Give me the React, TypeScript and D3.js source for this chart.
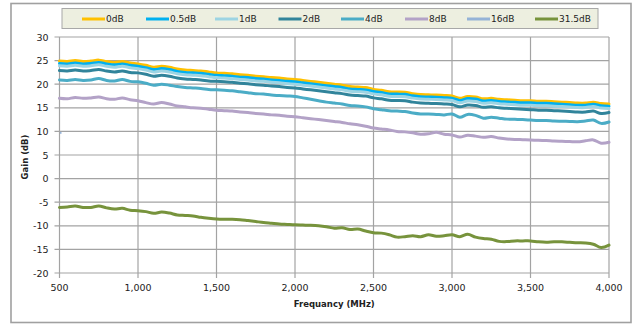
import React from "react";
import * as d3 from "d3";

const FREQS = [500, 550, 600, 650, 700, 750, 800, 850, 900, 950,
  1000, 1050, 1100, 1150, 1200, 1250, 1300, 1350, 1400, 1450,
  1500, 1550, 1600, 1650, 1700, 1750, 1800, 1850, 1900, 1950,
  2000, 2050, 2100, 2150, 2200, 2250, 2300, 2350, 2400, 2450,
  2500, 2550, 2600, 2650, 2700, 2750, 2800, 2850, 2900, 2950,
  3000, 3050, 3100, 3150, 3200, 3250, 3300, 3350, 3400, 3450,
  3500, 3550, 3600, 3650, 3700, 3750, 3800, 3850, 3900, 3950, 4000];

const GAIN_0DB = [24.9, 24.8, 25.0, 24.8, 24.9, 25.1, 24.8, 24.6, 24.8, 24.5,
  24.3, 24.0, 23.6, 23.8, 23.6, 23.2, 23.0, 22.9, 22.8, 22.6,
  22.4, 22.3, 22.2, 22.0, 21.9, 21.7, 21.6, 21.4, 21.3, 21.1,
  21.0, 20.8, 20.6, 20.4, 20.2, 20.0, 19.8, 19.5, 19.4, 19.3,
  18.9, 18.7, 18.4, 18.35, 18.3, 18.0, 17.8, 17.75, 17.7, 17.6,
  17.5, 17.0, 17.4, 17.3, 16.9, 17.0, 16.8, 16.7, 16.6, 16.5,
  16.5, 16.4, 16.4, 16.3, 16.2, 16.1, 16.0, 16.0, 16.2, 15.9, 15.8];

const GAIN_05DB = [24.4, 24.3, 24.5, 24.3, 24.4, 24.6, 24.3, 24.1, 24.3, 24.0,
  23.8, 23.5, 23.1, 23.3, 23.1, 22.7, 22.5, 22.4, 22.3, 22.1,
  21.9, 21.8, 21.7, 21.5, 21.4, 21.2, 21.1, 20.9, 20.8, 20.6,
  20.5, 20.3, 20.1, 19.9, 19.7, 19.5, 19.3, 19.0, 18.9, 18.8,
  18.45, 18.25, 17.95, 17.9, 17.85, 17.55, 17.35, 17.3, 17.25, 17.15,
  17.05, 16.55, 16.95, 16.85, 16.45, 16.55, 16.35, 16.25, 16.15, 16.05,
  16.05, 15.95, 15.95, 15.85, 15.75, 15.65, 15.55, 15.55, 15.75, 15.45, 15.35];

const GAIN_1DB = [23.9, 23.8, 24.0, 23.8, 23.9, 24.1, 23.8, 23.6, 23.8, 23.5,
  23.3, 23.0, 22.6, 22.8, 22.6, 22.2, 22.0, 21.9, 21.8, 21.6,
  21.4, 21.3, 21.2, 21.0, 20.9, 20.7, 20.6, 20.4, 20.3, 20.1,
  20.0, 19.8, 19.6, 19.4, 19.2, 19.0, 18.8, 18.5, 18.4, 18.3,
  17.95, 17.75, 17.45, 17.4, 17.35, 17.05, 16.85, 16.8, 16.75, 16.65,
  16.55, 16.05, 16.45, 16.35, 15.95, 16.05, 15.85, 15.75, 15.65, 15.55,
  15.55, 15.45, 15.45, 15.35, 15.25, 15.15, 15.05, 15.05, 15.25, 14.95, 14.85];

const GAIN_2DB = [22.9, 22.8, 23.0, 22.8, 22.9, 23.1, 22.8, 22.6, 22.8, 22.5,
  22.4, 22.1, 21.7, 21.9, 21.7, 21.3, 21.1, 21.0, 20.9, 20.7,
  20.6, 20.5, 20.4, 20.2, 20.1, 19.9, 19.8, 19.6, 19.5, 19.3,
  19.2, 19.0, 18.8, 18.6, 18.4, 18.2, 18.0, 17.7, 17.6, 17.5,
  17.1, 16.9, 16.6, 16.55, 16.5, 16.2, 16.0, 15.95, 15.9, 15.8,
  15.7, 15.2, 15.6, 15.5, 15.1, 15.2, 15.0, 14.9, 14.8, 14.7,
  14.6, 14.5, 14.5, 14.4, 14.3, 14.2, 14.1, 14.1, 14.3, 13.8, 14.0];

const GAIN_4DB = [20.9, 20.8, 21.0, 20.8, 20.9, 21.2, 20.8, 20.7, 21.0, 20.6,
  20.5, 20.2, 19.8, 20.0, 19.8, 19.5, 19.3, 19.2, 19.1, 18.9,
  18.8, 18.7, 18.6, 18.4, 18.2, 18.0, 17.9, 17.7, 17.6, 17.5,
  17.4, 17.1, 16.8, 16.5, 16.2, 16.0, 15.8, 15.5, 15.4, 15.2,
  14.8, 14.6, 14.4, 14.3, 14.2, 13.9, 13.7, 13.7, 13.6, 13.5,
  13.7, 13.0, 13.6, 13.4, 12.8, 13.0, 12.8, 12.6, 12.55, 12.5,
  12.4, 12.3, 12.3, 12.2, 12.15, 12.1, 12.05, 12.2, 12.4, 11.7, 12.0];

const GAIN_8DB = [17.0, 16.9, 17.2, 17.0, 17.1, 17.3, 16.9, 16.8, 17.1, 16.7,
  16.5, 16.1, 15.8, 16.1, 15.8, 15.4, 15.2, 15.0, 14.9, 14.7,
  14.5, 14.4, 14.3, 14.1, 14.0, 13.8, 13.7, 13.5, 13.4, 13.2,
  13.1, 12.9, 12.7, 12.5, 12.3, 12.1, 11.9, 11.6, 11.4, 11.1,
  10.7, 10.5, 10.3, 10.0, 9.9, 9.7, 9.4, 9.5, 9.8, 9.4,
  9.25, 8.8, 9.2, 9.0, 8.75, 8.9, 8.6, 8.4, 8.3, 8.25,
  8.2, 8.1, 8.05, 7.95, 7.9, 7.85, 7.8, 8.0, 8.2, 7.5, 7.7];

const FREQS_16DB = [500];
const GAIN_16DB = [9.7];

const GAIN_315DB = [-6.1, -6.0, -5.8, -6.1, -6.1, -5.8, -6.2, -6.45, -6.3, -6.7,
  -6.8, -7.0, -7.35, -7.1, -7.3, -7.7, -7.8, -7.9, -8.2, -8.4,
  -8.55, -8.6, -8.6, -8.7, -8.9, -9.1, -9.3, -9.45, -9.6, -9.7,
  -9.8, -9.85, -9.9, -10.0, -10.2, -10.5, -10.4, -10.8, -10.7, -11.1,
  -11.45, -11.55, -11.9, -12.4, -12.3, -12.1, -12.3, -11.9, -12.2, -12.1,
  -11.9, -12.3, -11.8, -12.4, -12.7, -12.85, -13.3, -13.35, -13.2, -13.2,
  -13.2, -13.4, -13.5, -13.4, -13.4, -13.5, -13.6, -13.65, -13.9, -14.6, -14.1];

const SERIES_NAMES = ["0dB", "0.5dB", "1dB", "2dB", "4dB", "8dB", "16dB", "31.5dB"];
const SERIES_COLORS = ["#FFC000", "#00B0F0", "#9DD4E3", "#31849B", "#4BACC6", "#B3A2C7", "#95B3D7", "#77933C"];
const SERIES_FREQS = [FREQS, FREQS, FREQS, FREQS, FREQS, FREQS, FREQS_16DB, FREQS];
const SERIES_VALUES = [GAIN_0DB, GAIN_05DB, GAIN_1DB, GAIN_2DB, GAIN_4DB, GAIN_8DB, GAIN_16DB, GAIN_315DB];

const X_TICKS = [500, 1000, 1500, 2000, 2500, 3000, 3500, 4000];
const Y_TICKS = [30, 25, 20, 15, 10, 5, 0, -5, -10, -15, -20];

const W = 634;
const H = 325;
const PL = 59.5, PR = 609, PT = 37, PB = 273;
const LEGEND_X = [82, 146, 215, 278.5, 341, 405, 467, 535];

export default function App() {
  const x = d3.scaleLinear().domain([500, 4000]).range([PL, PR]);
  const y = d3.scaleLinear().domain([-20, 30]).range([PB, PT]);
  const fmt = d3.format(",");
  const tickFont = "'DejaVu Sans', Verdana, sans-serif";

  const series = SERIES_NAMES.map((name, i) => ({
    name,
    color: SERIES_COLORS[i],
    pts: SERIES_FREQS[i].map((f, j) => [f, SERIES_VALUES[i][j]] as [number, number]),
  }));

  const line = d3
    .line<[number, number]>()
    .x((d) => x(d[0]))
    .y((d) => y(d[1]))
    .curve(d3.curveCatmullRom.alpha(0.5));

  const grid = "#A3A3A3";

  return (
    <svg
      width={W}
      height={H}
      style={{ position: "absolute", left: 0, top: 0, background: "#fff" }}
    >
      <rect x={11} y={3.5} width={620} height={319} fill="#fff" stroke="#A0A0A0" strokeWidth={1.6} />

      {/* legend */}
      <rect x={62} y={8.5} width={536} height={20} fill="#EDEFE0" stroke="#A8A8A8" strokeWidth={1} />
      {series.map((s, i) => (
        <g key={s.name}>
          <line x1={LEGEND_X[i]} x2={LEGEND_X[i] + 23} y1={19} y2={19} stroke={s.color} strokeWidth={3} />
          <text x={LEGEND_X[i] + 24} y={22.2} fontFamily={tickFont} fontSize={9} fill="#222">
            {s.name}
          </text>
        </g>
      ))}

      {/* gridlines */}
      {Y_TICKS.map((t) => (
        <line key={"gy" + t} x1={PL - 5} x2={PR} y1={y(t)} y2={y(t)} stroke={grid} strokeWidth={1.2} />
      ))}
      {X_TICKS.map((t) => (
        <line key={"gx" + t} x1={x(t)} x2={x(t)} y1={PT} y2={PB + 5} stroke={grid} strokeWidth={1.2} />
      ))}

      {/* series */}
      {series.map((s) =>
        s.pts.length > 1 ? (
          <path
            key={s.name}
            d={line(s.pts) || ""}
            fill="none"
            stroke={s.color}
            strokeWidth={3}
            strokeLinejoin="round"
            strokeLinecap="round"
          />
        ) : (
          <rect
            key={s.name}
            x={x(s.pts[0][0]) + 0.5}
            y={y(s.pts[0][1]) - 1}
            width={1.5}
            height={2}
            fill={s.color}
          />
        )
      )}

      {/* y tick labels */}
      {Y_TICKS.map((t) => (
        <text
          key={"ly" + t}
          x={48.5}
          y={y(t) + 3.5}
          textAnchor="end"
          fontFamily={tickFont}
          fontSize={9.5}
          fill="#222"
        >
          {t}
        </text>
      ))}
      {X_TICKS.map((t) => (
        <text
          key={"lx" + t}
          x={x(t)}
          y={290.5}
          textAnchor="middle"
          fontFamily={tickFont}
          fontSize={9.5}
          fill="#222"
        >
          {fmt(t)}
        </text>
      ))}

      <text
        x={(PL + PR) / 2}
        y={306.5}
        textAnchor="middle"
        fontFamily={tickFont}
        fontWeight="bold"
        fontSize={8.5}
        fill="#222"
      >
        Frequancy (MHz)
      </text>
      <text
        transform={`translate(27.5, ${(PT + PB) / 2 + 2}) rotate(-90)`}
        textAnchor="middle"
        fontFamily={tickFont}
        fontWeight="bold"
        fontSize={8.5}
        fill="#222"
      >
        Gain (dB)
      </text>
    </svg>
  );
}
